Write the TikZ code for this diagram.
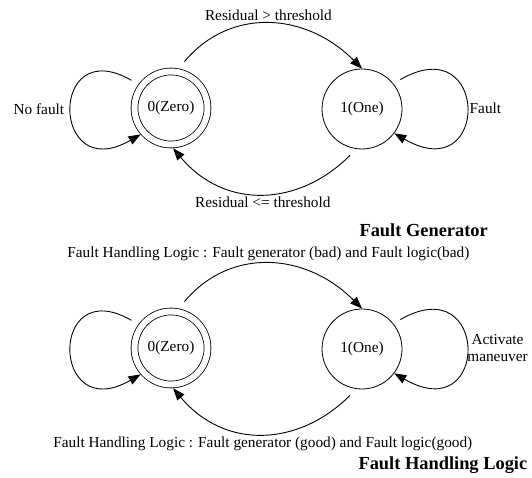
\documentclass[tikz,border=0pt]{standalone}
\usepackage{fontspec}
\setmainfont{Liberation Serif}
\usetikzlibrary{arrows.meta}
\tikzset{
        sstate/.style={circle, draw, line width=.8pt, minimum size=80pt, inner sep=0pt},
        dstate/.style={circle, draw, line width=.8pt, double, double distance=6pt, minimum size=73pt, inner sep=0pt, outer sep=3.8pt},
        trans/.style={-{Triangle[length=12pt, width=9pt]}, line width=.9pt},
        caption/.style={anchor=west, font=\fontsize{18.4}{22}\selectfont\bfseries}
}
\begin{document}
\begin{tikzpicture}[x=1pt, y=1pt, font=\fontsize{15.3}{17}\selectfont]
        \useasboundingbox (0, 0) rectangle (532, 477);

        \node[dstate] (za) at (171, 369) {0(Zero)};
        \node[sstate] (oa) at (362, 368) {1(One)};
        \node[caption] (gen) at (356, 247) {Fault Generator};

        \draw[trans, shorten <=9pt] (za.79) to[out=50, in=135, looseness=1.12] node[above] {Residual > threshold} (oa.90);
        \draw[trans, shorten <=9pt] (oa.-98) to[out=-135, in=-50, looseness=1.13] node[below] {Residual <= threshold} (za.-87);
        \draw[trans, shorten <=8pt] (za.144) to[out=150, in=210, distance=104pt] node[left=4pt] {No fault} (za.221);
        \draw[trans, shorten <=8pt] (oa.39) to[out=30, in=-30, distance=111pt] node[right] {Fault} (oa.-37);

        \node[dstate] (zb) at (171, 129) {0(Zero)};
        \node[sstate] (ob) at (362, 128) {1(One)};
        \node[caption] (fhl) at (355, 12) {Fault Handling Logic};

        \draw[trans, shorten <=9pt] (zb.79) to[out=50, in=135, looseness=1.12] node[above] {Fault Handling Logic : Fault generator (bad) and Fault logic(bad)} (ob.90);
        \draw[trans, shorten <=9pt] (ob.-98) to[out=-135, in=-50, looseness=1.13] node[below] {Fault Handling Logic : Fault generator (good) and Fault logic(good)} (zb.-87);
        \draw[trans, shorten <=8pt] (zb.144) to[out=150, in=210, distance=104pt] (zb.221);
        \draw[trans, shorten <=8pt] (ob.39) to[out=30, in=-30, distance=111pt] node[right, align=center, inner sep=1pt] {Activate\\maneuver} (ob.-37);
\end{tikzpicture}
\end{document}
